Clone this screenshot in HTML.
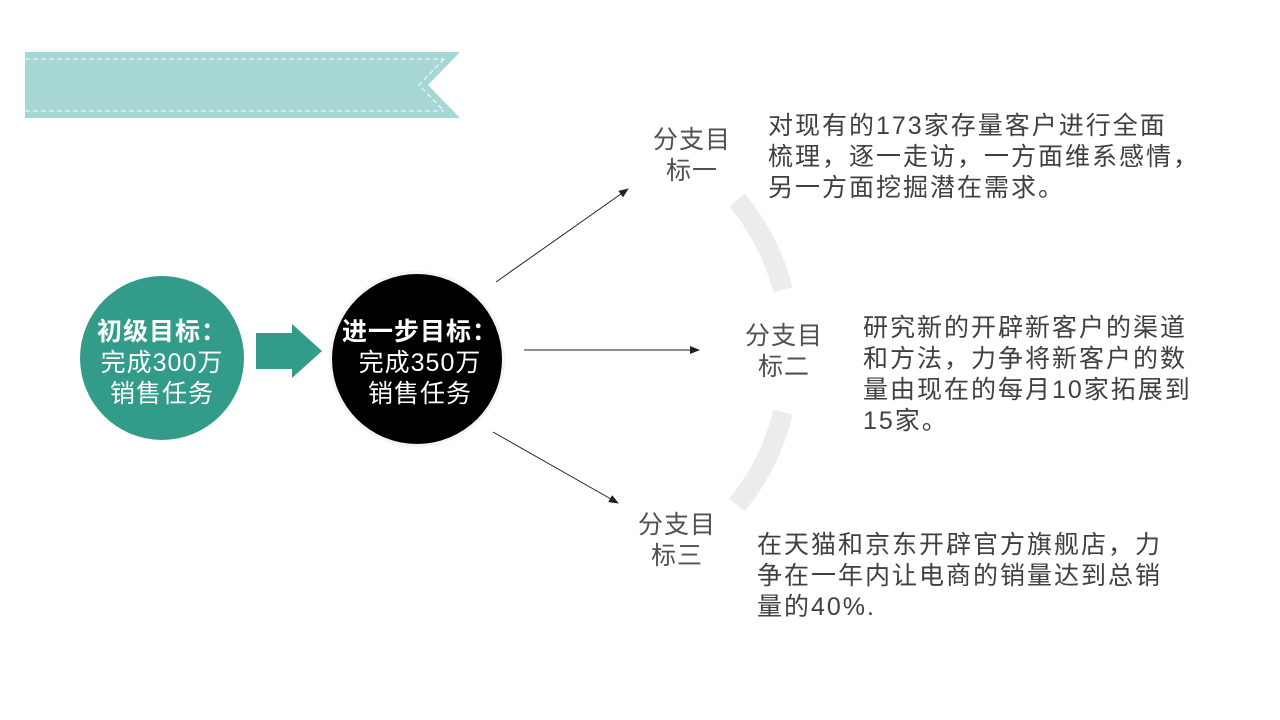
<!DOCTYPE html>
<html><head><meta charset="utf-8"><style>
body{margin:0;width:1280px;height:720px;background:#fff;position:relative;overflow:hidden;font-family:"Liberation Sans","Noto Sans CJK SC",sans-serif}
.t{position:absolute;color:#404040;font-size:25px;line-height:31px;letter-spacing:2px;white-space:nowrap}
.c{position:absolute;text-align:center;color:#fff;font-size:25px;line-height:31px;letter-spacing:1px;white-space:nowrap}
.lab{position:absolute;color:#505050;font-size:25px;line-height:31px;text-align:center;letter-spacing:1px}
</style></head><body>
<svg width="1280" height="720" style="position:absolute;left:0;top:0">
<defs><marker id="a" markerWidth="10" markerHeight="8" refX="9" refY="4" orient="auto" markerUnits="userSpaceOnUse"><path d="M0,0 L10,4 L0,8z" fill="#222"/></marker></defs>
<polygon points="25,52 460,52 428,85 460,118 25,118" fill="#a6d7d4"/>
<line x1="25" y1="59" x2="444" y2="59" stroke="#fff" stroke-width="1" stroke-dasharray="5,3"/>
<line x1="25" y1="111" x2="444" y2="111" stroke="#fff" stroke-width="1" stroke-dasharray="5,3"/>
<polyline points="444,59 419,85 444,111" fill="none" stroke="#fff" stroke-dasharray="5,3"/>
<path d="M737,200 A236,236 0 0 1 783,290" fill="none" stroke="#ececec" stroke-width="20"/>
<path d="M783,412 A236,236 0 0 1 737,505" fill="none" stroke="#ececec" stroke-width="20"/>
<circle cx="162" cy="358" r="82" fill="#339b8a"/>
<polygon points="256,333 292,333 292,324 322,351 292,378 292,369 256,369" fill="#339b8a"/>
<circle cx="417" cy="359" r="88" fill="#f4f4f4"/>
<circle cx="417" cy="359" r="85" fill="#000"/>
<line x1="496" y1="282" x2="628" y2="189" stroke="#222" marker-end="url(#a)"/>
<line x1="524" y1="350" x2="699" y2="350" stroke="#222" marker-end="url(#a)"/>
<line x1="493" y1="432" x2="618" y2="503" stroke="#222" marker-end="url(#a)"/>
</svg>
<div class="c" style="left:80px;top:317px;width:164px"><b>初级目标：</b><br>完成300万<br>销售任务</div>
<div class="c" style="left:332px;top:317px;width:176px"><b>进一步目标：</b><br>完成350万<br>销售任务</div>
<div class="lab" style="left:642px;top:125px;width:100px">分支目<br>标一</div>
<div class="lab" style="left:734px;top:321px;width:100px">分支目<br>标二</div>
<div class="lab" style="left:627px;top:510px;width:100px">分支目<br>标三</div>
<div class="t" style="left:768px;top:111px">对现有的173家存量客户进行全面<br>梳理，逐一走访，一方面维系感情，<br>另一方面挖掘潜在需求。</div>
<div class="t" style="left:863px;top:313px">研究新的开辟新客户的渠道<br>和方法，力争将新客户的数<br>量由现在的每月10家拓展到<br>15家。</div>
<div class="t" style="left:757px;top:530px">在天猫和京东开辟官方旗舰店，力<br>争在一年内让电商的销量达到总销<br>量的40%.</div>
</body></html>
